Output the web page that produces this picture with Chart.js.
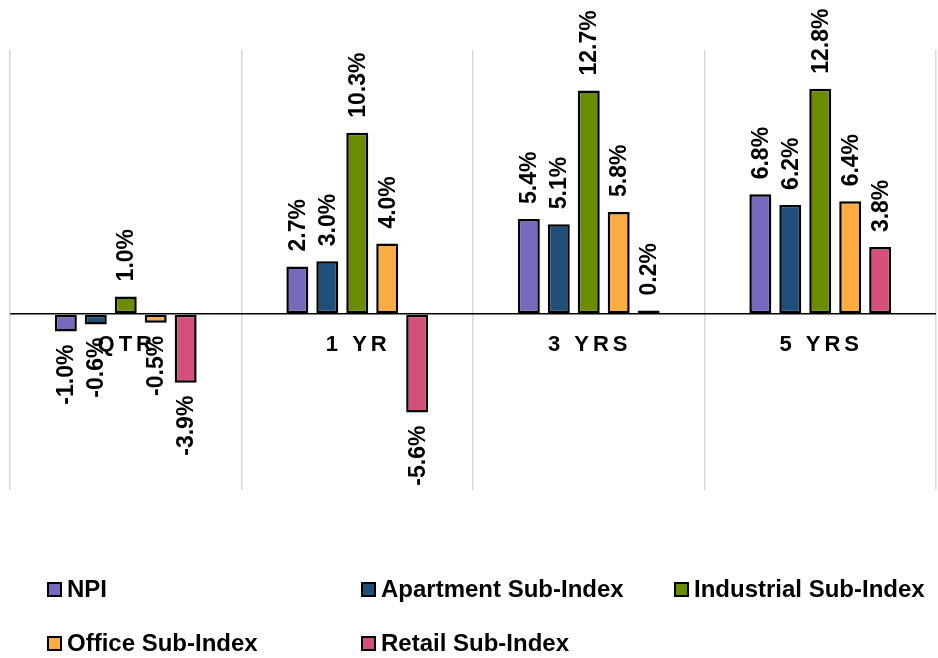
<!DOCTYPE html>
<html>
<head>
<meta charset="utf-8">
<title>NPI Sub-Index Returns</title>
<script src="https://cdn.jsdelivr.net/npm/chart.js@4.4.1/dist/chart.umd.min.js"></script>
<style>
  html, body { margin: 0; padding: 0; background: #ffffff; }
  #wrap { width: 938px; height: 658px; position: relative; }
</style>
</head>
<body>
<div id="wrap"><canvas id="returns"></canvas></div>
<script>
const periods = ["QTR", "1 YR", "3 YRS", "5 YRS"];

const seriesNames = [
  "NPI",
  "Apartment Sub-Index",
  "Industrial Sub-Index",
  "Office Sub-Index",
  "Retail Sub-Index",
];

// returns in percent, one array per index
const npi = [-1.0, 2.7, 5.4, 6.8];
const apartment = [-0.6, 3.0, 5.1, 6.2];
const industrial = [1.0, 10.3, 12.7, 12.8];
const office = [-0.5, 4.0, 5.8, 6.4];
const retail = [-3.9, -5.6, 0.2, 3.8];

const barColors = ["#7869BD", "#1F4E79", "#6B8C00", "#FFAD42", "#D4507A"];

const fontFamily = "'Liberation Sans', Arial, sans-serif";

const seriesValues = [npi, apartment, industrial, office, retail];

const datasets = seriesValues.map((values, i) => ({
  label: seriesNames[i],
  data: values,
  backgroundColor: barColors[i],
  borderColor: "#000000",
  borderWidth: 2.5,
  borderSkipped: false,
  barPercentage: 0.733,
  categoryPercentage: 0.647,
}));

// rotated value labels above / below each bar
const valueLabels = {
  id: "valueLabels",
  afterDatasetsDraw(chart) {
    const ctx = chart.ctx;
    ctx.save();
    ctx.font = "bold 23px " + fontFamily;
    ctx.fillStyle = "#000000";
    ctx.textBaseline = "middle";
    chart.data.datasets.forEach((ds, di) => {
      chart.getDatasetMeta(di).data.forEach((bar, i) => {
        const v = ds.data[i];
        const text = v.toFixed(1) + "%";
        ctx.save();
        ctx.translate(bar.x, bar.y + (v >= 0 ? -15 : 13));
        ctx.rotate(-Math.PI / 2);
        ctx.textAlign = v >= 0 ? "left" : "right";
        ctx.fillText(text, 0, 1);
        ctx.restore();
      });
    });
    ctx.restore();
  },
};

// period names sit just under the zero line
const periodLabels = {
  id: "periodLabels",
  afterDraw(chart) {
    const ctx = chart.ctx;
    const x = chart.scales.x;
    const y0 = chart.scales.y.getPixelForValue(0);
    ctx.save();
    ctx.font = "bold 22px " + fontFamily;
    ctx.letterSpacing = "4px";
    ctx.fillStyle = "#000000";
    ctx.textAlign = "center";
    ctx.textBaseline = "middle";
    periods.forEach((p, i) => {
      ctx.fillText(p, x.getPixelForValue(i) + 1, y0 + 31);
    });
    ctx.restore();
  },
};

// legend laid out in fixed columns under the plot
const gridLegend = {
  id: "gridLegend",
  afterDraw(chart) {
    const ctx = chart.ctx;
    const colX = [48, 362, 675];
    const rowY = [589, 643];
    ctx.save();
    ctx.font = "bold 24px " + fontFamily;
    ctx.textBaseline = "middle";
    ctx.textAlign = "left";
    chart.data.datasets.forEach((ds, i) => {
      const bx = colX[i % 3];
      const by = rowY[Math.floor(i / 3)];
      ctx.fillStyle = ds.backgroundColor;
      ctx.fillRect(bx, by - 6, 13, 13);
      ctx.strokeStyle = "#000000";
      ctx.lineWidth = 2;
      ctx.strokeRect(bx, by - 6, 13, 13);
      ctx.fillStyle = "#000000";
      ctx.fillText(ds.label, bx + 19, by + 1);
    });
    ctx.restore();
  },
};

new Chart(document.getElementById("returns"), {
  type: "bar",
  data: {
    labels: periods,
    datasets: datasets,
  },
  plugins: [valueLabels, periodLabels, gridLegend],
  options: {
    responsive: true,
    maintainAspectRatio: false,
    animation: false,
    layout: {
      padding: { top: 50, left: 10, right: 2, bottom: 168 },
    },
    plugins: {
      legend: { display: false },
      tooltip: { enabled: false },
    },
    scales: {
      x: {
        ticks: { display: false },
        border: { display: false },
        grid: {
          offset: true,
          drawTicks: false,
          color: "#D9D9D9",
          lineWidth: 1.5,
        },
      },
      y: {
        min: -10,
        max: 15,
        ticks: { display: false, stepSize: 5 },
        border: { display: false },
        grid: {
          drawTicks: false,
          color: (c) => (c.tick && c.tick.value === 0 ? "#000000" : "rgba(0,0,0,0)"),
          lineWidth: 1.5,
          z: 1,
        },
      },
    },
  },
});
</script>
</body>
</html>
